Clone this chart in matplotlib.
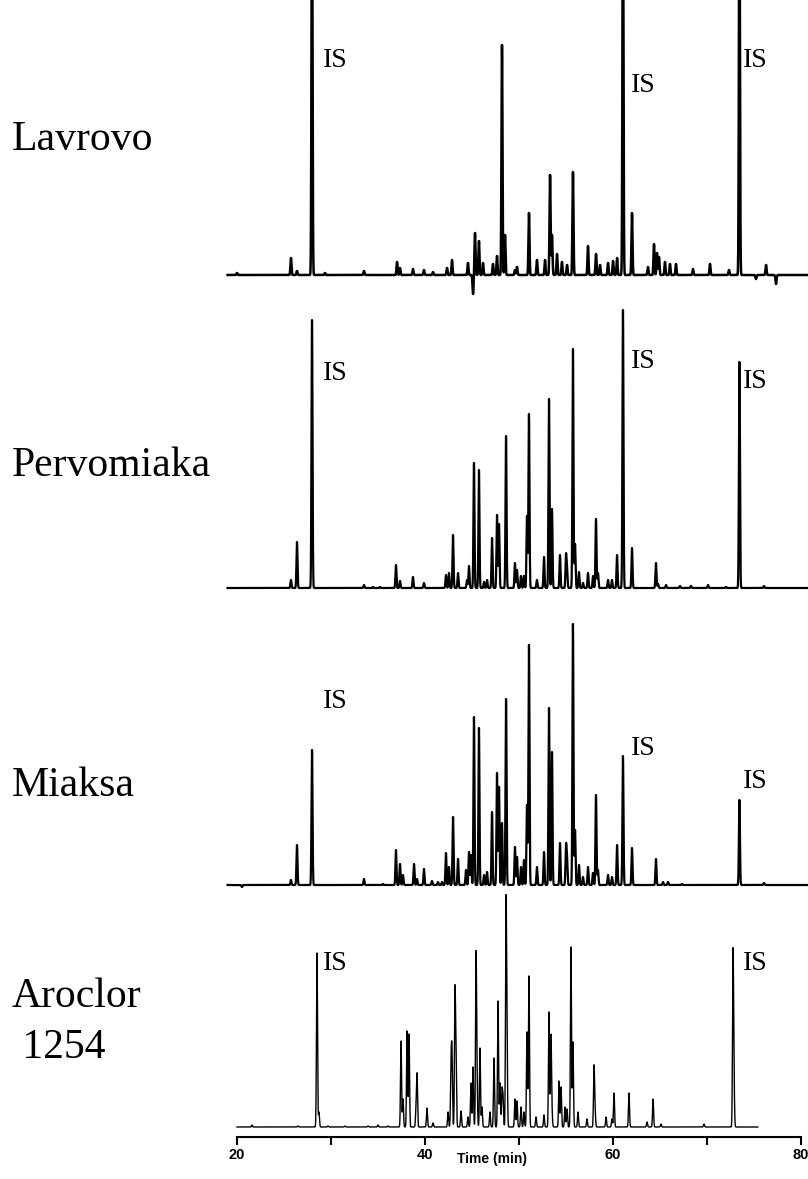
import numpy as np
import matplotlib
matplotlib.use("Agg")
import matplotlib.pyplot as plt

# peak retention times (min) and heights (detector units) per sample
lav_t = [20.00, 25.74, 26.38, 27.98, 29.36, 33.51, 37.02, 37.34, 38.72, 39.89, 40.85, 42.34,
         42.87, 44.57, 45.11, 45.32, 45.74, 46.17, 47.23, 47.66, 48.19, 48.51, 49.57, 49.79,
         51.06, 51.91, 52.77, 53.30, 53.51, 54.04, 54.57, 55.11, 55.74, 57.34, 58.19, 58.62,
         59.47, 60.00, 60.43, 61.06, 62.02, 63.72, 64.36, 64.68, 64.89, 65.53, 66.06, 66.70,
         68.51, 70.32, 72.34, 73.45, 75.21, 76.28, 77.34]
lav_h = [2, 17, 4, 400, 2, 4, 13, 7, 6, 5, 3, 7,
         15, 12, -19, 42, 34, 12, 11, 19, 230, 40, 5, 8,
         62, 15, 15, 100, 40, 21, 13, 10, 103, 29, 21, 10,
         12, 14, 17, 400, 62, 8, 31, 22, 18, 13, 11, 11,
         6, 11, 5, 400, -4, 10, -9]

per_t = [25.74, 26.38, 27.98, 33.51, 34.47, 35.21, 36.91, 37.34, 38.72, 39.89, 42.23, 42.55,
         42.98, 43.51, 44.47, 44.68, 45.21, 45.74, 46.28, 46.60, 47.13, 47.66, 47.87, 48.62,
         49.57, 49.79, 50.21, 50.53, 50.85, 51.06, 51.91, 52.66, 53.19, 53.51, 54.36, 55.00,
         55.11, 55.74, 55.96, 56.38, 56.81, 57.34, 57.87, 58.19, 58.40, 59.47, 59.89, 60.43,
         61.06, 62.02, 64.57, 64.79, 65.64, 67.13, 68.30, 70.11, 72.02, 73.45, 76.06]
per_h = [8, 46, 268, 3, 1, 1, 23, 7, 11, 5, 13, 15,
         53, 15, 8, 22, 125, 118, 6, 8, 50, 73, 64, 152,
         25, 18, 12, 12, 72, 174, 8, 31, 189, 79, 33, 32,
         18, 239, 44, 16, 5, 15, 12, 69, 15, 8, 8, 33,
         278, 40, 25, 4, 3, 2, 2, 3, 1, 226, 2]

mia_t = [20.53, 25.74, 26.38, 27.98, 33.51, 35.53, 36.91, 37.34, 37.66, 38.83, 39.15, 39.89,
         40.74, 41.38, 41.81, 42.23, 42.55, 42.98, 43.51, 44.36, 44.68, 44.89, 45.21, 45.74,
         46.28, 46.60, 47.13, 47.66, 47.87, 48.19, 48.62, 49.57, 49.79, 50.21, 50.53, 50.85,
         51.06, 51.91, 52.66, 53.19, 53.51, 54.36, 55.00, 55.11, 55.74, 55.96, 56.38, 56.81,
         57.34, 57.87, 58.19, 58.40, 59.47, 59.89, 60.43, 61.06, 62.02, 64.57, 65.32, 65.85,
         67.34, 73.45, 76.06]
mia_h = [-2, 5, 40, 135, 6, 1, 35, 21, 10, 21, 6, 16,
         4, 3, 3, 32, 18, 68, 26, 15, 33, 30, 168, 157,
         10, 13, 73, 112, 98, 62, 186, 38, 28, 18, 25, 80,
         240, 18, 33, 177, 133, 42, 38, 25, 261, 55, 20, 8,
         18, 12, 90, 15, 10, 8, 40, 129, 37, 26, 3, 3,
         1, 85, 2]

aro_t = [21.60, 26.49, 28.51, 28.72, 29.68, 31.49, 33.94, 35.00, 36.06, 37.45, 37.66, 38.09,
         38.30, 39.04, 39.15, 40.21, 40.85, 42.45, 42.77, 42.87, 43.19, 43.30, 43.83, 44.57,
         44.89, 45.11, 45.43, 45.53, 45.85, 46.06, 46.91, 47.34, 47.77, 47.98, 48.19, 48.30,
         48.62, 48.72, 49.57, 49.79, 50.21, 50.53, 50.85, 51.06, 51.81, 52.66, 53.19, 53.40,
         53.51, 54.26, 54.47, 54.89, 55.11, 55.53, 55.74, 56.28, 57.23, 57.98, 58.09, 59.26,
         59.89, 60.11, 61.70, 63.62, 64.26, 65.11, 69.68, 72.77, 72.87]
aro_h = [2, 1, 174, 15, 1, 1, 1, 2, 1, 86, 28, 96,
         93, 15, 52, 19, 4, 15, 60, 69, 132, 65, 16, 10,
         44, 60, 167, 45, 79, 20, 15, 69, 126, 44, 35, 28,
         216, 76, 28, 26, 20, 15, 95, 151, 10, 12, 115, 91,
         13, 46, 40, 20, 18, 180, 85, 15, 8, 60, 15, 10,
         8, 34, 34, 5, 28, 3, 3, 171, 40]

samples = ["Lavrovo", "Pervomiaka", "Miaksa", "Aroclor", " 1254"]
W, H = 808, 1179


def trace(times, heights, t0, t1, width=0.055):
    t = np.arange(t0, t1, 0.005)
    y = np.zeros_like(t)
    for c, h in zip(times, heights):
        y += h * np.exp(-0.5 * ((t - c) / width) ** 2)
    return t, y


fig = plt.figure(figsize=(W / 100, H / 100), dpi=100)
ax = fig.add_axes([237 / W, 1 - 1137 / H, (801 - 237) / W, 1137 / H])
ax.set_xlim(20, 80)
ax.set_ylim(0, 1137)

offsets = [862, 549, 252, 10]
spans = [(19.0, 81.3), (19.0, 81.3), (19.0, 81.3), (20.0, 75.4)]
widths = [1.8, 1.6, 1.6, 1.0]
data = [(lav_t, lav_h), (per_t, per_h), (mia_t, mia_h), (aro_t, aro_h)]
for (tt, hh), off, (t0, t1), lw in zip(data, offsets, spans, widths):
    t, y = trace(tt, hh, t0, t1)
    ax.plot(t, y + off, color="black", lw=lw, clip_on=False)

for s in ["left", "right", "top"]:
    ax.spines[s].set_visible(False)
ax.spines["bottom"].set_linewidth(1.5)
ax.set_yticks([])
ax.set_xticks(range(20, 81, 10))
ax.set_xticklabels(["20", "", "40", "", "60", "", "80"])
ax.tick_params(axis="x", direction="out", length=6, width=1.5, labelsize=10.5, pad=2)
for lbl in ax.get_xticklabels():
    lbl.set_fontweight("bold")
    lbl.set_family("Liberation Sans")
ax.set_xlabel("Time (min)", fontsize=10, fontweight="bold", family="Liberation Sans", labelpad=1)
ax.xaxis.set_label_coords((492 - 237) / 564, -0.013)

# sample names
name_pos = [(12, 150), (12, 476), (12, 796), (12, 1007), (12, 1058)]
for name, (x, y) in zip(samples, name_pos):
    fig.text(x / W, 1 - y / H, name, fontsize=30, family="Liberation Serif",
             va="baseline", ha="left")

# internal standard labels
is_pos = [(323, 67), (631, 92), (743, 67),
          (323, 380), (631, 368), (743, 388),
          (323, 708), (631, 755), (743, 788),
          (323, 970), (743, 970)]
for x, y in is_pos:
    fig.text(x / W, 1 - y / H, "IS", fontsize=20, family="Liberation Serif",
             va="baseline", ha="left")

fig.savefig("out.png", dpi=100)
